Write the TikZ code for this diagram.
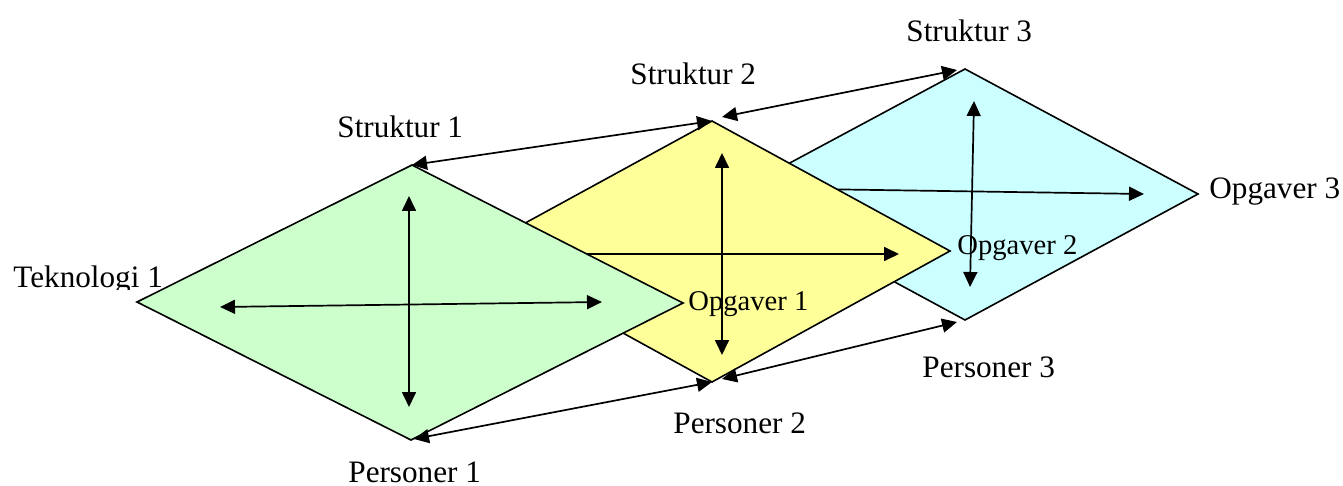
\documentclass[tikz,border=0pt]{standalone}
\usepackage{fontspec}
\setmainfont{Liberation Serif}
\usetikzlibrary{arrows.meta,calc}
\definecolor{dgreen}{HTML}{CCFFCC}
\definecolor{dyellow}{HTML}{FFFF99}
\definecolor{dcyan}{HTML}{CCFFFF}
\begin{document}
\begin{tikzpicture}[x=0.5pt,y=-0.5pt,
  dia/.style={draw=black,line width=0.8pt,line join=miter},
  arr/.style={line width=0.85pt,-{Triangle[length=7.5pt,width=7pt]}},
  darr/.style={line width=0.85pt,{Triangle[length=7.5pt,width=7pt]}-{Triangle[length=7.5pt,width=7pt]}},
  lbl/.style={anchor=base west,inner sep=0pt,font=\fontsize{15.6}{18}\selectfont},
  slbl/.style={anchor=base west,inner sep=0pt,font=\fontsize{14.3}{17}\selectfont}]
\useasboundingbox (0,0) rectangle (1343,486);
% vertices
\coordinate (ct) at (965,69);  \coordinate (cr) at (1198,194);
\coordinate (cb) at (965,320); \coordinate (cl) at (732,194);
\coordinate (yt) at (712,121); \coordinate (yr) at (950,251);
\coordinate (yb) at (712,382); \coordinate (yl) at (474,251);
\coordinate (gt) at (412,165); \coordinate (gr) at (683,303);
\coordinate (gb) at (411,440); \coordinate (gl) at (137,302);
% arrow ends
\coordinate (cv1) at (974,101); \coordinate (cv2) at (970,287);
\coordinate (ch1) at (810,189); \coordinate (ch2) at (1144,194);
\coordinate (yv1) at (722,153); \coordinate (yv2) at (722,355);
\coordinate (yh1) at (560,254); \coordinate (yh2) at (899,254);
\coordinate (gv1) at (409,196); \coordinate (gv2) at (409,407);
\coordinate (gh1) at (220,307); \coordinate (gh2) at (602,302);
% cyan
\filldraw[dia,fill=dcyan] (ct) -- (cr) -- (cb) -- (cl) -- cycle;
\draw[darr] (cv1) -- (cv2);
\draw[arr] (ch1) -- (ch2);
% yellow
\filldraw[dia,fill=dyellow] (yt) -- (yr) -- (yb) -- (yl) -- cycle;
\draw[darr] (yv1) -- (yv2);
\draw[arr] (yh1) -- (yh2);
% green
\filldraw[dia,fill=dgreen] (gt) -- (gr) -- (gb) -- (gl) -- cycle;
\draw[darr] (gv1) -- (gv2);
\draw[darr] (gh1) -- (gh2);
% connectors
\draw[darr] (gt) -- (yt);
\draw[darr] ($(yt)+(10,-4)$) -- ($(ct)+(-8,1)$);
\draw[darr] ($(gb)+(3,-1)$) -- (yb);
\draw[darr] ($(yb)+(10,-3)$) -- ($(cb)+(-8,2)$);
% labels
\node[lbl] (s1) at (337,138) {Struktur 1};
\node[lbl] (s2) at (630,85) {Struktur 2};
\node[lbl] (s3) at (906,42) {Struktur 3};
\begin{scope}
\clip (0,250) rectangle (200,289);
\node[lbl] (t1) at (13,287) {Teknologi 1};
\end{scope}
\node[slbl] (o1) at (688,310) {Opgaver 1};
\node[slbl] (o2) at (957,255) {Opgaver 2};
\node[lbl] (o3) at (1209,199) {Opgaver 3};
\node[lbl] (p1) at (348,482) {Personer 1};
\node[lbl] (p2) at (673,433) {Personer 2};
\node[lbl] (p3) at (922,377) {Personer 3};
\end{tikzpicture}
\end{document}
